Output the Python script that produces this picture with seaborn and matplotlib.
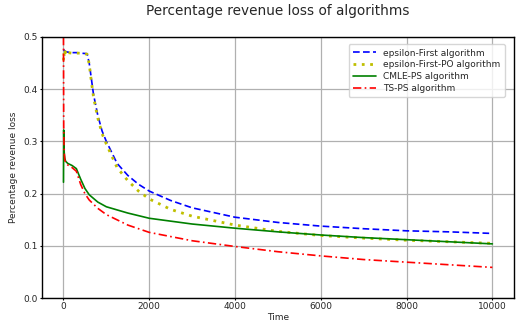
import numpy as np
import pandas as pd
import matplotlib
matplotlib.use("Agg")
import matplotlib.pyplot as plt
import seaborn as sns

# epsilon-First algorithm
t_ef = [0, 20, 50, 100, 200, 300, 400, 550, 600, 650, 700, 800, 900, 1000, 1250, 1500, 1750,
        2000, 2500, 3000, 4000, 5000, 6000, 7000, 8000, 9000, 10000]
v_ef = [0.476, 0.474, 0.472, 0.471, 0.470, 0.470, 0.469, 0.468, 0.450, 0.42, 0.39, 0.35, 0.32,
        0.300, 0.258, 0.235, 0.218, 0.205, 0.187, 0.173, 0.155, 0.145, 0.138, 0.133, 0.129,
        0.127, 0.124]

# epsilon-First-PO algorithm
t_po = [0, 10, 20, 40, 60, 100, 200, 300, 400, 550, 600, 650, 700, 800, 900, 1000, 1250, 1500,
        1750, 2000, 2500, 3000, 4000, 5000, 6000, 7000, 8000, 9000, 10000]
v_po = [0.455, 0.47, 0.462, 0.472, 0.465, 0.47, 0.469, 0.469, 0.469, 0.467, 0.448, 0.415, 0.385,
        0.345, 0.315, 0.295, 0.250, 0.225, 0.205, 0.190, 0.170, 0.157, 0.140, 0.128, 0.120,
        0.115, 0.111, 0.108, 0.105]

# CMLE-PS algorithm
t_cm = [0, 5, 10, 20, 30, 50, 100, 200, 300, 400, 500, 600, 800, 1000, 1500, 2000, 3000, 4000,
        5000, 6000, 7000, 8000, 9000, 10000]
v_cm = [0.222, 0.322, 0.29, 0.275, 0.268, 0.262, 0.258, 0.254, 0.248, 0.228, 0.21, 0.198,
        0.184, 0.175, 0.163, 0.153, 0.142, 0.134, 0.127, 0.121, 0.116, 0.112, 0.108, 0.104]

# TS-PS algorithm
t_ts = [0, 5, 10, 20, 30, 50, 100, 200, 300, 400, 500, 600, 800, 1000, 1500, 2000, 3000, 4000,
        5000, 6000, 7000, 8000, 9000, 10000]
v_ts = [0.5, 0.33, 0.3, 0.275, 0.265, 0.26, 0.255, 0.25, 0.243, 0.218, 0.2, 0.188, 0.172,
        0.16, 0.14, 0.126, 0.11, 0.099, 0.089, 0.081, 0.074, 0.069, 0.064, 0.059]

labels = ["epsilon-First algorithm", "epsilon-First-PO algorithm", "CMLE-PS algorithm",
          "TS-PS algorithm"]

sns.set_style("whitegrid", {"axes.edgecolor": "black", "grid.color": "#b0b0b0",
                            "xtick.bottom": True, "ytick.left": True})
plt.rcParams["font.family"] = ["DejaVu Sans"]

fig, ax = plt.subplots(figsize=(5.19, 3.27), dpi=100)

series = [(t_ef, v_ef, "#0000ff", (0, (4, 2)), 1.2),
          (t_po, v_po, "#bfbf00", (0, (1, 2)), 2.0),
          (t_cm, v_cm, "#008000", "-", 1.2),
          (t_ts, v_ts, "#ff0000", (0, (5, 2, 1, 2)), 1.2)]
for (t, v, c, ls, lw), lab in zip(series, labels):
    df = pd.DataFrame({"Time": t, "loss": v})
    sns.lineplot(data=df, x="Time", y="loss", ax=ax, color=c, linestyle=ls, linewidth=lw,
                 label=lab, sort=False)

ax.set_xlim(-500, 10500)
ax.set_ylim(0, 0.5)
ax.set_xticks([0, 2000, 4000, 6000, 8000, 10000])
ax.set_yticks([0.0, 0.1, 0.2, 0.3, 0.4, 0.5])
ax.tick_params(labelsize=6.5, length=1.5, width=0.8, color="black", pad=1.5)
ax.set_xlabel("Time", fontsize=6.5, labelpad=1)
ax.set_ylabel("Percentage revenue loss", fontsize=6.5, labelpad=4)
ax.set_title("Percentage revenue loss of algorithms", fontsize=9.8, pad=16)
for s in ax.spines.values():
    s.set_color("black")
    s.set_linewidth(1.0)
ax.grid(True, color="#b0b0b0", linewidth=0.9)
leg = ax.legend(loc="upper right", fontsize=6.5, frameon=True, handlelength=2.5,
                borderpad=0.5, labelspacing=0.3, bbox_to_anchor=(0.99, 0.99))
leg.get_frame().set_edgecolor("#cccccc")

fig.subplots_adjust(left=0.081, right=0.99, top=0.887, bottom=0.088)
fig.savefig("out.png", dpi=100)
